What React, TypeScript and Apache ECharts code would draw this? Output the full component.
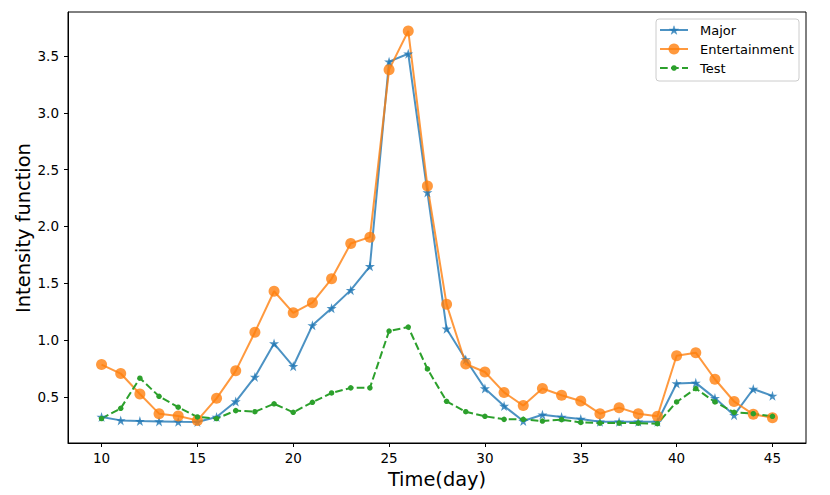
import React, { useEffect, useRef } from "react";
import * as echarts from "echarts";

const days = [10,11,12,13,14,15,16,17,18,19,20,21,22,23,24,25,26,27,28,29,30,31,32,33,34,35,36,37,38,39,40,41,42,43,44,45];
const major = [0.324,0.294,0.288,0.285,0.282,0.28,0.324,0.46,0.676,0.97,0.77,1.13,1.28,1.44,1.65,3.45,3.52,2.30,1.10,0.83,0.574,0.42,0.288,0.344,0.324,0.306,0.282,0.282,0.282,0.282,0.618,0.624,0.49,0.34,0.57,0.51];
const entertainment = [0.785,0.706,0.526,0.353,0.332,0.294,0.488,0.73,1.07,1.43,1.24,1.33,1.54,1.85,1.906,3.38,3.72,2.356,1.315,0.79,0.72,0.54,0.424,0.574,0.515,0.465,0.353,0.406,0.353,0.33,0.862,0.89,0.656,0.46,0.347,0.318];
const test = [0.31,0.40,0.665,0.506,0.41,0.324,0.31,0.38,0.37,0.44,0.365,0.453,0.535,0.58,0.58,1.08,1.115,0.747,0.462,0.37,0.33,0.303,0.303,0.288,0.30,0.276,0.27,0.27,0.27,0.265,0.456,0.574,0.456,0.365,0.353,0.33];
const xTicks = [10,15,20,25,30,35,40,45];
const yTicks = [0.5,1.0,1.5,2.0,2.5,3.0,3.5];
const seriesNames = ["Major", "Entertainment", "Test"];

const STAR = "path://M50,0 L61.2,34.5 L97.6,34.5 L68.1,55.9 L79.4,90.5 L50,69.1 L20.6,90.5 L31.9,55.9 L2.4,34.5 L38.8,34.5 Z";
const STAR_CENTERED = "M0,-50 L11.2,-15.5 L47.6,-15.5 L18.1,5.9 L29.4,40.5 L0,19.1 L-29.4,40.5 L-18.1,5.9 L-47.6,-15.5 L-11.2,-15.5 Z";
const FONT = "DejaVu Sans";

let registered = false;

export default function App() {
  const ref = useRef<HTMLDivElement>(null);
  useEffect(() => {
    if (!ref.current) return;
    if (!registered) {
      echarts.graphic.registerShape("star5", echarts.graphic.extendPath(STAR_CENTERED, {}));
      registered = true;
    }
    const chart = echarts.init(ref.current, undefined, { renderer: "svg" });
    const pair = (arr: number[]) => days.map((d, i) => [d, arr[i]]);
    const blue = "rgba(31,119,180,0.8)";
    const orange = "rgba(255,127,14,0.8)";
    const green = "#2ca02c";
    const dash = [7.7, 3.3];

    const lx0 = 660, lx1 = 688, lcx = 674, ltx = 700;
    const rows = [30, 49, 68];
    const legendEls: any[] = [
      {
        type: "rect",
        shape: { x: 656, y: 19, width: 143, height: 62, r: 3 },
        style: { fill: "rgba(255,255,255,0.8)", stroke: "#cccccc", lineWidth: 1 },
        z: 100,
      },
      { type: "line", shape: { x1: lx0, y1: rows[0], x2: lx1, y2: rows[0] }, style: { stroke: blue, lineWidth: 2 }, z: 101 },
      { type: "star5", x: lcx, y: rows[0] + 0.5, scaleX: 0.095, scaleY: 0.095, style: { fill: blue, stroke: blue, lineWidth: 5 }, z: 102 },
      { type: "line", shape: { x1: lx0, y1: rows[1], x2: lx1, y2: rows[1] }, style: { stroke: orange, lineWidth: 2 }, z: 101 },
      { type: "circle", shape: { cx: lcx, cy: rows[1], r: 5.5 }, style: { fill: orange }, z: 102 },
      { type: "line", shape: { x1: lx0, y1: rows[2], x2: lx1, y2: rows[2] }, style: { stroke: green, lineWidth: 2, lineDash: dash }, z: 101 },
      { type: "circle", shape: { cx: lcx, cy: rows[2], r: 2.8 }, style: { fill: green }, z: 102 },
    ];
    seriesNames.forEach((name, i) => {
      legendEls.push({
        type: "text",
        x: ltx,
        y: rows[i],
        style: { text: name, font: `13px "${FONT}"`, fill: "#000", textAlign: "left", textVerticalAlign: "middle" },
        z: 102,
      });
    });

    chart.setOption({
      animation: false,
      textStyle: { fontFamily: FONT },
      grid: { left: 68, right: 24, top: 12, bottom: 52, show: false },
      xAxis: {
        type: "value",
        min: 8.25,
        max: 46.75,
        splitLine: { show: false },
        axisLine: { show: true, onZero: false, lineStyle: { color: "#000", width: 1 } },
        axisTick: { show: true, length: 4, lineStyle: { color: "#000" }, customValues: xTicks },
        axisLabel: { color: "#000", fontSize: 13.5, margin: 8, fontFamily: FONT, customValues: xTicks },
      },
      yAxis: {
        type: "value",
        min: 0.095,
        max: 3.887,
        splitLine: { show: false },
        axisLine: { show: true, onZero: false, lineStyle: { color: "#000", width: 1 } },
        axisTick: { show: true, length: 4, lineStyle: { color: "#000" }, customValues: yTicks },
        axisLabel: {
          color: "#000", fontSize: 13.5, margin: 9, fontFamily: FONT, customValues: yTicks,
          formatter: (v: number) => v.toFixed(1),
        },
      },
      graphic: [
        {
          type: "rect",
          shape: { x: 68, y: 12, width: 738, height: 431 },
          style: { fill: "none", stroke: "#000", lineWidth: 1 },
          silent: true,
          z: 0,
        },
        {
          type: "text",
          x: 437,
          y: 479,
          style: { text: "Time(day)", font: `19.4px "${FONT}"`, fill: "#000", textAlign: "center", textVerticalAlign: "middle" },
        },
        {
          type: "text",
          x: 23,
          y: 228,
          rotation: Math.PI / 2,
          style: { text: "Intensity function", font: `19.4px "${FONT}"`, fill: "#000", textAlign: "center", textVerticalAlign: "middle" },
        },
        ...legendEls,
      ],
      series: [
        {
          name: seriesNames[0],
          type: "line",
          data: pair(major),
          symbol: STAR,
          symbolSize: 10,
          showAllSymbol: true,
          lineStyle: { color: blue, width: 2 },
          itemStyle: { color: blue },
        },
        {
          name: seriesNames[1],
          type: "line",
          data: pair(entertainment),
          symbol: "circle",
          symbolSize: 11,
          showAllSymbol: true,
          lineStyle: { color: orange, width: 2 },
          itemStyle: { color: orange },
        },
        {
          name: seriesNames[2],
          type: "line",
          data: pair(test),
          symbol: "circle",
          symbolSize: 5.5,
          showAllSymbol: true,
          lineStyle: { color: green, width: 2, type: dash },
          itemStyle: { color: green },
        },
      ],
    });
    return () => chart.dispose();
  }, []);
  return <div ref={ref} style={{ position: "absolute", left: 0, top: 0, width: 830, height: 495 }} />;
}
